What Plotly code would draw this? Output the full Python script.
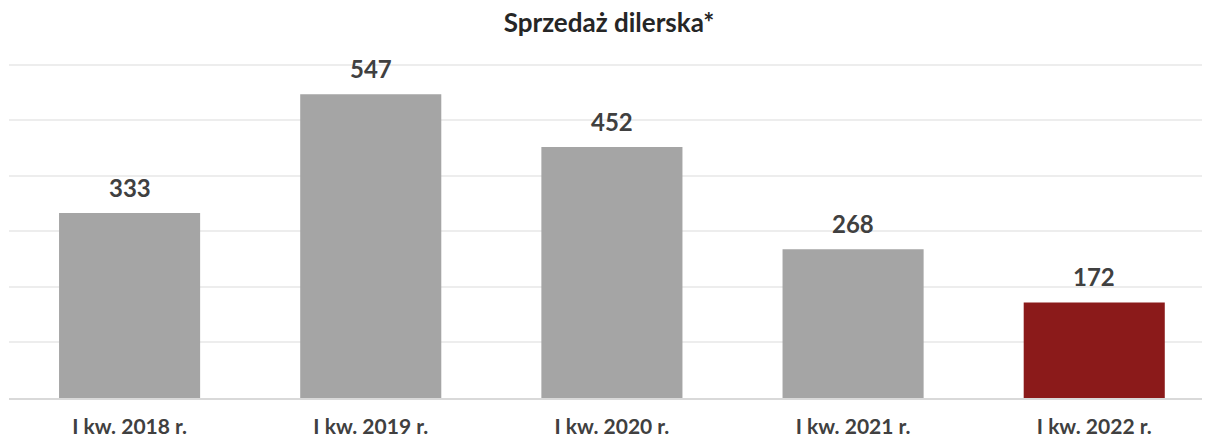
import plotly.graph_objects as go

categories = ["I kw. 2018 r.", "I kw. 2019 r.", "I kw. 2020 r.", "I kw. 2021 r.", "I kw. 2022 r."]
values = [333, 547, 452, 268, 172]
bar_colors = ["#A5A5A5", "#A5A5A5", "#A5A5A5", "#A5A5A5", "#8B1A1A"]

FONT = "Lato, 'Open Sans', sans-serif"
TXT = "#404040"

fig = go.Figure(go.Bar(
    x=categories, y=values, marker_color=bar_colors, marker_line_width=0,
    width=0.585,
))

for c, v in zip(categories, values):
    fig.add_annotation(x=c, y=v, text=f"<b>{v}</b>", showarrow=False,
                       yanchor="bottom", yshift=9,
                       font=dict(family=FONT, size=24, color=TXT))

# page body has an 8px offset, so the figure is sized to fit the window
fig.update_layout(
    width=1202, height=430,
    margin=dict(l=1, r=0, t=54, b=40),
    paper_bgcolor="white", plot_bgcolor="white",
    title=dict(text="<b>Sprzedaż dilerska*</b>", x=0.5, xanchor="center",
               y=1 - 15/430, yanchor="middle",
               font=dict(family=FONT, size=26, color="#262626")),
    showlegend=False,
    xaxis=dict(range=[-0.5, 4.48], showgrid=False, zeroline=False,
               showline=True, linecolor="#D9D9D9", linewidth=2,
               ticks="outside", ticklen=9, tickcolor="rgba(0,0,0,0)",
               tickfont=dict(family=FONT, size=21, color=TXT),
               tickprefix="<b>", ticksuffix="</b>", automargin=False),
    yaxis=dict(range=[0, 605], dtick=100, showgrid=True, gridcolor="#EDEDED",
               gridwidth=1.5, zeroline=False, showticklabels=False),
)

fig.write_html("out.html")
